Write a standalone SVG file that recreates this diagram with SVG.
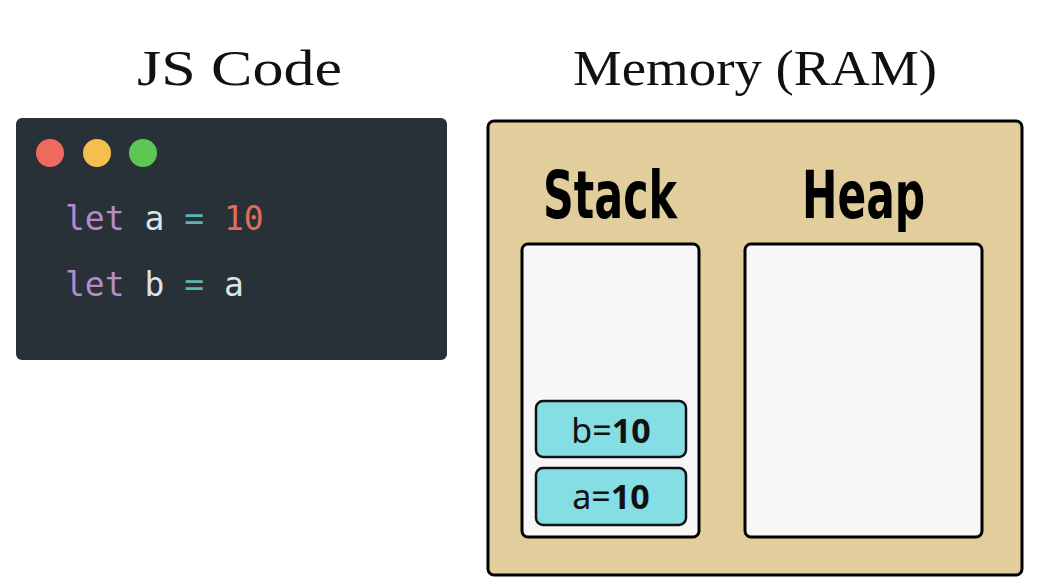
<svg xmlns="http://www.w3.org/2000/svg" width="1041" height="586" viewBox="0 0 1041 586">
<style>
.title{font-family:"Liberation Serif","DejaVu Serif",serif;font-size:50px;fill:#111}
.code{font-family:"DejaVu Sans Mono","Liberation Mono",monospace;font-size:33px}
.kw{fill:#b48bc8}.id{fill:#dde3e6}.op{fill:#5eb3b5}.num{fill:#e06c5a}
.hd{font-family:"DejaVu Sans Condensed","DejaVu Sans",sans-serif;font-weight:bold;font-size:66px;fill:#000}
.box{fill:#f7f7f7;stroke:#000;stroke-width:3}
.cell{fill:#84dee4;stroke:#111;stroke-width:2.5}
.val{font-family:"Noto Sans","Open Sans",sans-serif;font-size:34px;fill:#111;text-anchor:middle}
</style>
<rect width="1041" height="586" fill="#ffffff"/>
<g id="title-js"><text class="title" x="137" y="85" textLength="205" lengthAdjust="spacingAndGlyphs">JS Code</text></g>
<g id="title-mem"><text class="title" x="573" y="85" textLength="364" lengthAdjust="spacingAndGlyphs">Memory (RAM)</text></g>
<g id="code">
<rect x="16" y="118" width="431" height="242" rx="6" fill="#283038"/>
<circle cx="50" cy="153" r="14" fill="#ee6a5f"/>
<circle cx="97" cy="153" r="14" fill="#f5be4f"/>
<circle cx="143" cy="153" r="14" fill="#5fc553"/>
<text class="code" x="65" y="230"><tspan class="kw">let</tspan><tspan class="id"> a </tspan><tspan class="op">=</tspan><tspan class="num"> 10</tspan></text>
<text class="code" x="65" y="296"><tspan class="kw">let</tspan><tspan class="id"> b </tspan><tspan class="op">=</tspan><tspan class="id"> a</tspan></text>
</g>
<g id="memory">
<rect x="488" y="121" width="534" height="454" rx="6" fill="#e2ce9c" stroke="#000" stroke-width="3"/>
</g>
<g id="stack">
<text class="hd" x="543" y="218" textLength="134" lengthAdjust="spacingAndGlyphs">Stack</text>
<rect class="box" x="522" y="244" width="177" height="293" rx="6"/>
</g>
<g id="heap">
<text class="hd" x="802" y="218" textLength="123" lengthAdjust="spacingAndGlyphs">Heap</text>
<rect class="box" x="745" y="244" width="237" height="293" rx="6"/>
</g>
<g id="cell-b">
<rect class="cell" x="536" y="401" width="150" height="56" rx="7"/>
<text class="val" x="611" y="443">b=<tspan font-weight="bold">10</tspan></text>
</g>
<g id="cell-a">
<rect class="cell" x="536" y="468" width="150" height="57" rx="7"/>
<text class="val" x="611" y="509">a=<tspan font-weight="bold">10</tspan></text>
</g>
<g id="connectors"/>
</svg>
